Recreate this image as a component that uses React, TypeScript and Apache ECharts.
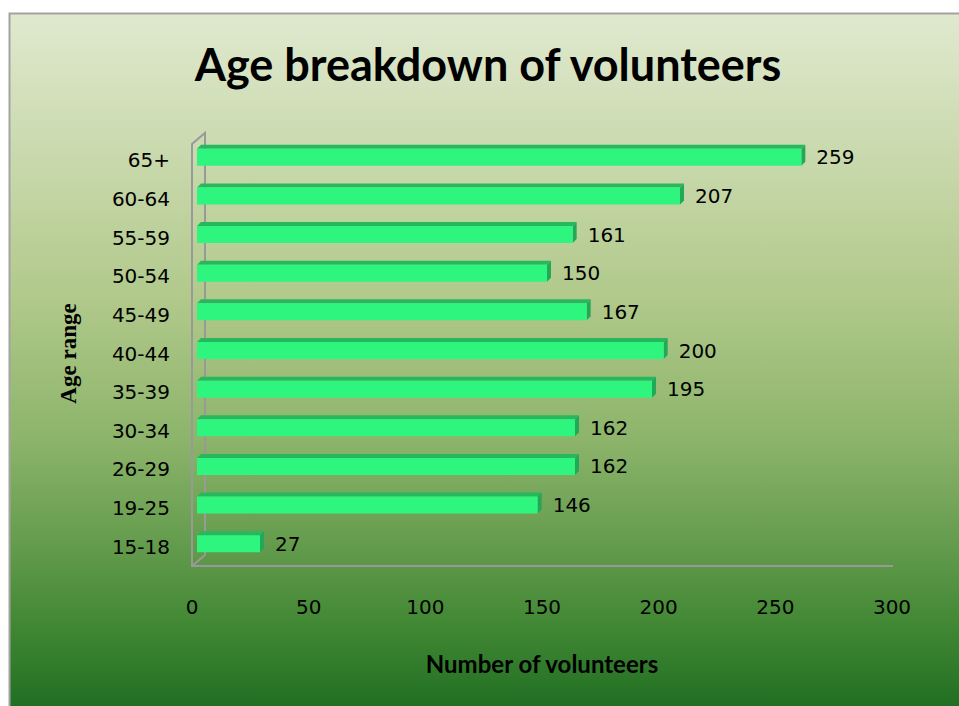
import React, { useEffect, useRef } from "react";
import * as echarts from "echarts";

const categories = ["15-18", "19-25", "26-29", "30-34", "35-39", "40-44", "45-49", "50-54", "55-59", "60-64", "65+"];
const volunteers = [27, 146, 162, 162, 195, 200, 167, 150, 161, 207, 259];
const xTicks = { min: 0, max: 300, interval: 50 };

const GRID_LEFT = 192;
const GRID_TOP = 141;
const GRID_W = 700;
const GRID_H = 425;
const DEPTH_X = 13;
const DEPTH_Y = 11;
const BAR_DX = 5;
const BAR_DY = -5;
const BAR_H = 17;
const FACE = 4;

export default function App() {
  const ref = useRef<HTMLDivElement>(null);
  useEffect(() => {
    if (!ref.current) return;
    const chart = echarts.init(ref.current, null, { renderer: "svg" });
    const labelFont = "DejaVu Sans";
    const bottom = GRID_TOP + GRID_H;
    const option: any = {
      animation: false,
      backgroundColor: "#ffffff",
      graphic: [
        {
          type: "rect",
          z: -10,
          shape: { x: 9.5, y: 13.5, width: 970, height: 710 },
          style: {
            stroke: "#a3a3a3",
            lineWidth: 2,
            fill: new echarts.graphic.LinearGradient(0, 0, 0, 1, [
              { offset: 0, color: "#e0e9cf" },
              { offset: 0.2, color: "#c9d9ad" },
              { offset: 0.4, color: "#b1c98b" },
              { offset: 0.6, color: "#8cb46a" },
              { offset: 0.75, color: "#639b4c" },
              { offset: 0.86, color: "#428834" },
              { offset: 1, color: "#1a6a1f" },
            ]),
          },
        },
        {
          type: "polyline",
          z: -5,
          shape: {
            points: [
              [GRID_LEFT + GRID_W + 1, bottom],
              [GRID_LEFT, bottom],
              [GRID_LEFT, GRID_TOP + 3],
              [GRID_LEFT + DEPTH_X, GRID_TOP + 3 - DEPTH_Y],
              [GRID_LEFT + DEPTH_X, bottom - DEPTH_Y],
              [GRID_LEFT, bottom],
            ],
          },
          style: { stroke: "#999999", lineWidth: 2, fill: null },
        },
        {
          type: "text",
          x: 488,
          y: 64,
          style: {
            text: "Age breakdown of volunteers",
            font: "bold 45px Lato",
            fill: "#000000",
            textAlign: "center",
            textVerticalAlign: "middle",
          },
        },
      ],
      grid: { left: GRID_LEFT, top: GRID_TOP, width: GRID_W, height: GRID_H, containLabel: false },
      xAxis: {
        type: "value",
        min: xTicks.min,
        max: xTicks.max,
        interval: xTicks.interval,
        axisLine: { show: false },
        axisTick: { show: false },
        splitLine: { show: false },
        axisLabel: { color: "#000", fontFamily: labelFont, fontSize: 20, margin: 31 },
        name: "Number of volunteers",
        nameLocation: "middle",
        nameGap: 85,
        nameTextStyle: { fontFamily: "Lato", fontWeight: "bold", fontSize: 24, color: "#000" },
      },
      yAxis: {
        type: "category",
        data: categories,
        axisLine: { show: false },
        axisTick: { show: false },
        splitLine: { show: false },
        axisLabel: { color: "#000", fontFamily: labelFont, fontSize: 20, margin: 22 },
        name: "Age range",
        nameLocation: "middle",
        nameGap: 112,
        nameRotate: 90,
        nameTextStyle: { fontFamily: "Liberation Serif", fontWeight: "bold", fontSize: 23, color: "#000" },
      },
      series: [
        {
          type: "custom",
          data: volunteers.map((v, i) => [v, i]),
          renderItem: (params: any, api: any) => {
            const v = api.value(0);
            const i = api.value(1);
            const s = api.coord([0, i]);
            const e = api.coord([v, i]);
            const x0 = s[0] + BAR_DX;
            const x1 = e[0] + BAR_DX;
            const yc = s[1] + BAR_DY;
            const y0 = yc - BAR_H / 2 + FACE / 2;
            const y1 = yc + BAR_H / 2 + FACE / 2;
            return {
              type: "group",
              children: [
                {
                  type: "polygon",
                  shape: { points: [[x0, y0], [x0 + FACE, y0 - FACE], [x1 + FACE, y0 - FACE], [x1, y0]] },
                  style: { fill: "#27b85e" },
                },
                {
                  type: "polygon",
                  shape: { points: [[x1, y0], [x1 + FACE, y0 - FACE], [x1 + FACE, y1 - FACE], [x1, y1]] },
                  style: { fill: "#22a957" },
                },
                {
                  type: "rect",
                  shape: { x: x0, y: y0, width: x1 - x0, height: y1 - y0 },
                  style: { fill: "#2ef57e" },
                },
                {
                  type: "text",
                  x: x1 + 15,
                  y: yc + 2,
                  style: {
                    text: String(v),
                    font: "20px DejaVu Sans",
                    fill: "#000",
                    textAlign: "left",
                    textVerticalAlign: "middle",
                  },
                },
              ],
            };
          },
        },
      ],
    };
    chart.setOption(option);
    return () => chart.dispose();
  }, []);
  return (
    <div style={{ position: "absolute", left: 0, top: 0, width: 959, height: 706, overflow: "hidden" }}>
      <div ref={ref} style={{ width: 959, height: 706 }} />
    </div>
  );
}
